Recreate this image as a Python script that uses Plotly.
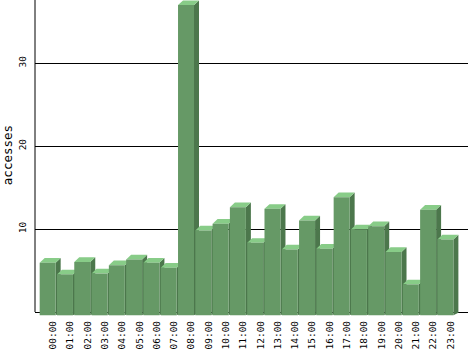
import plotly.graph_objects as go

hours = ["%02d:00" % h for h in range(24)]
accesses = [6.5, 5.1, 6.6, 5.2, 6.2, 6.9, 6.5, 5.9, 37.55, 10.4, 11.2, 13.2,
            8.9, 13.0, 8.1, 11.6, 8.2, 14.4, 10.5, 10.9, 7.8, 3.9, 12.9, 9.3]
y_ticks = [10, 20, 30]

FRONT = "rgb(102,153,102)"
TOP = "rgb(136,204,136)"
SIDE = "rgb(76,119,76)"

# 3D look parameters (in axis units)
shift = 0.307   # front face shifted left from category position
width = 0.925   # bar width
dxu = 0.289     # depth in x
dyu = 0.566     # depth in y
base = -0.40    # front face bottom

pos = list(range(len(hours)))
front_x = [p - shift for p in pos]
front_len = [v - dyu - base for v in accesses]

side_x, side_y, top_x, top_y = [], [], [], []
for p, v in zip(pos, accesses):
    L = p - shift - width / 2
    R = p - shift + width / 2
    side_x += [R, R, R + dxu, R + dxu, R, None]
    side_y += [base, v - dyu, v, -0.1, base, None]
    top_x += [L, R, R + dxu, L + dxu, L, None]
    top_y += [v - dyu, v - dyu, v, v, v - dyu, None]

ymax = 37.6
xr = [-1.04, 24.0]
yr = [-0.482, ymax]

fig = go.Figure()
fig.add_trace(go.Scatter(x=side_x, y=side_y, mode="lines", line=dict(width=0),
                         fill="toself", fillcolor=SIDE, hoverinfo="skip",
                         showlegend=False))
fig.add_trace(go.Scatter(x=top_x, y=top_y, mode="lines", line=dict(width=0),
                         fill="toself", fillcolor=TOP, hoverinfo="skip",
                         showlegend=False))
fig.add_trace(go.Bar(x=front_x, y=front_len, base=base, width=width,
                     marker=dict(color=FRONT, line=dict(width=0)),
                     xaxis="x2", yaxis="y2", showlegend=False,
                     customdata=accesses, hovertemplate="%{customdata}<extra></extra>"))

fig.update_layout(
    width=468, height=351,
    margin=dict(l=35, r=0, t=0, b=35),
    paper_bgcolor="white", plot_bgcolor="white",
    showlegend=False,
    xaxis=dict(range=xr, tickmode="array", tickvals=pos, ticktext=hours,
               tickangle=-90, showgrid=False, zeroline=False, showline=False,
               ticks="", ticklabelstandoff=2,
               tickfont=dict(family="DejaVu Sans Mono", size=9.5, color="black")),
    yaxis=dict(range=yr, tickmode="array", tickvals=y_ticks,
               ticktext=[str(t) for t in y_ticks], tickangle=-90,
               showgrid=True, gridcolor="black", gridwidth=1,
               zeroline=True, zerolinecolor="black", zerolinewidth=1,
               showline=False, ticks="", ticklabelstandoff=6,
               tickfont=dict(family="DejaVu Sans Mono", size=9.5, color="black")),
    xaxis2=dict(range=xr, overlaying="x", visible=False),
    yaxis2=dict(range=yr, overlaying="y", visible=False),
    shapes=[dict(type="line", xref="paper", x0=0, x1=0, yref="y", y0=0, y1=ymax,
                 line=dict(color="black", width=1))],
    annotations=[dict(text="accesses", xref="paper", x=0, xanchor="center",
                      xshift=-28, yref="y", y=18.9, yanchor="middle",
                      textangle=-90, showarrow=False,
                      font=dict(family="DejaVu Sans Mono", size=12.5, color="black"))],
)

fig.write_html("out.html")
